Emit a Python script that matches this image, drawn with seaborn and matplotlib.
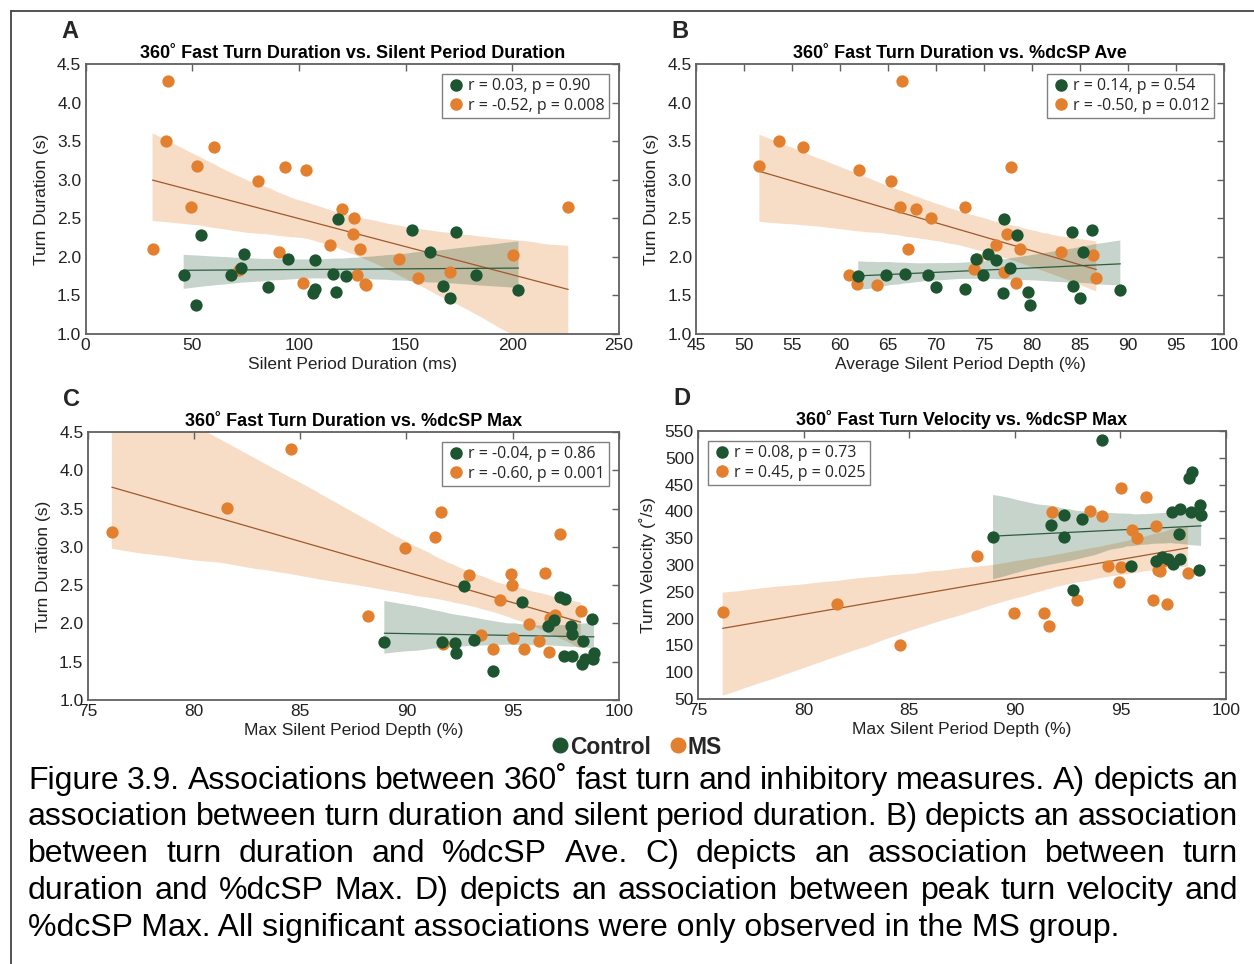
import matplotlib
matplotlib.use("Agg")
import matplotlib.pyplot as plt
from matplotlib.lines import Line2D
from matplotlib.collections import PolyCollection
import seaborn as sns

# ---------------- data ----------------
# Panel A: turn duration (s) vs silent period duration (ms)
a_ctrl_x = [46.0, 51.6, 54.0, 68.3, 73.0, 74.1, 85.6, 95.0, 107.4, 106.6, 107.4,
            116.0, 117.5, 118.4, 122.0, 153.1, 161.3, 167.3, 170.9, 173.5, 183.0, 202.9]
a_ctrl_y = [1.76, 1.38, 2.28, 1.76, 1.86, 2.04, 1.61, 1.97, 1.96, 1.53, 1.58,
            1.78, 1.54, 2.49, 1.75, 2.35, 2.06, 1.62, 1.47, 2.32, 1.77, 1.57]
a_ms_x = [38.5, 37.5, 60.0, 52.4, 31.4, 49.5, 72.0, 80.9, 90.9, 93.5, 103.4, 101.9,
          114.4, 120.2, 125.9, 125.2, 128.5, 127.3, 131.1, 131.5, 146.9, 155.8,
          170.9, 200.2, 226.2]
a_ms_y = [4.28, 3.50, 3.43, 3.18, 2.10, 2.64, 1.83, 2.98, 2.06, 3.16, 3.13, 1.66,
          2.15, 2.62, 2.50, 2.30, 2.10, 1.76, 1.65, 1.63, 1.97, 1.72, 1.81, 2.02, 2.65]

# Panel B: turn duration (s) vs average silent period depth (%)
b_ctrl_x = [61.9, 64.8, 66.8, 69.2, 70.0, 73.0, 74.2, 74.9, 75.4, 76.3, 77.0,
            77.1, 77.7, 78.4, 79.6, 79.8, 84.2, 84.3, 85.0, 85.3, 86.2, 89.2]
b_ctrl_y = [1.75, 1.76, 1.78, 1.76, 1.61, 1.58, 1.97, 1.77, 2.04, 1.96, 1.53,
            2.49, 1.86, 2.28, 1.54, 1.38, 2.32, 1.62, 1.47, 2.06, 2.35, 1.57]
b_ms_x = [51.6, 53.6, 56.1, 62.0, 65.3, 66.3, 67.9, 69.5, 73.0, 66.5, 67.1, 60.9,
          61.8, 63.9, 74.0, 74.3, 76.2, 77.1, 77.4, 77.8, 78.3, 78.8, 83.0, 86.4, 86.7]
b_ms_y = [3.18, 3.50, 3.43, 3.13, 2.98, 2.65, 2.62, 2.50, 2.64, 4.28, 2.10, 1.76,
          1.65, 1.63, 1.84, 1.97, 2.15, 1.81, 2.30, 3.16, 1.66, 2.10, 2.06, 2.02, 1.72]

# Panel C: turn duration (s) vs max silent period depth (%)
c_ctrl_x = [88.96, 92.71, 95.44, 97.22, 97.45, 96.66, 96.94, 97.76, 97.78, 98.73, 98.32,
            97.42, 97.81, 98.26, 98.40, 98.79, 98.82, 92.32, 92.27, 93.16, 94.07, 91.65]
c_ctrl_y = [1.76, 2.49, 2.28, 2.35, 2.32, 1.96, 2.04, 1.97, 1.86, 2.06, 1.77,
            1.57, 1.58, 1.47, 1.53, 1.54, 1.62, 1.61, 1.75, 1.78, 1.38, 1.76]
c_ms_x = [76.14, 81.54, 84.56, 88.21, 89.95, 91.33, 91.64, 91.72, 92.92, 93.52, 94.09,
          94.40, 94.92, 94.98, 95.00, 95.55, 95.78, 96.23, 96.54, 96.69, 96.75, 96.86,
          97.01, 97.22, 98.20]
c_ms_y = [3.19, 3.51, 4.28, 2.10, 2.99, 3.13, 3.45, 1.73, 2.63, 1.85, 1.66,
          2.31, 2.64, 2.50, 1.81, 1.66, 1.99, 1.77, 2.66, 1.63, 2.07, 2.05,
          2.11, 3.17, 2.16]

# Panel D: turn velocity (deg/s) vs max silent period depth (%)
d_ctrl_x = [94.15, 98.41, 98.27, 88.97, 91.71, 92.35, 92.32, 93.20, 92.74, 95.51, 96.67,
            96.97, 97.25, 97.50, 97.83, 97.46, 97.81, 98.34, 98.77, 98.82, 97.79, 98.74]
d_ctrl_y = [533, 473, 462, 353, 375, 394, 353, 385, 254, 299, 308,
            314, 311, 301, 312, 399, 404, 399, 412, 394, 358, 291]
d_ms_x = [76.17, 81.58, 84.58, 88.23, 89.98, 91.36, 91.64, 91.76, 92.94, 93.55, 94.11,
          94.41, 94.94, 95.01, 95.02, 95.57, 95.79, 96.22, 96.55, 96.70, 96.80, 96.88,
          97.03, 97.23, 98.19]
d_ms_y = [212, 228, 150, 316, 211, 211, 186, 398, 234, 401, 392,
          299, 268, 296, 444, 366, 350, 427, 234, 373, 291, 288,
          308, 227, 286]

panel_letters = ["A", "B", "C", "D"]
titles = ["360˚ Fast Turn Duration vs. Silent Period Duration",
          "360˚ Fast Turn Duration vs. %dcSP Ave",
          "360˚ Fast Turn Duration vs. %dcSP Max",
          "360˚ Fast Turn Velocity vs. %dcSP Max"]
xlabels = ["Silent Period Duration (ms)", "Average Silent Period Depth (%)",
           "Max Silent Period Depth (%)", "Max Silent Period Depth (%)"]
ylabels = ["Turn Duration (s)", "Turn Duration (s)", "Turn Duration (s)",
           "Turn Velocity (˚/s)"]
ctrl_stats = ["r = 0.03, p = 0.90", "r = 0.14, p = 0.54",
              "r = -0.04, p = 0.86", "r = 0.08, p = 0.73"]
ms_stats = ["r = -0.52, p = 0.008", "r = -0.50, p = 0.012",
            "r = -0.60, p = 0.001", "r = 0.45, p = 0.025"]
group_names = ["Control", "MS"]

caption_lines = [
    "Figure 3.9. Associations between 360˚ fast turn and inhibitory measures. A) depicts an",
    "association between turn duration and silent period duration. B) depicts an association",
    "between turn duration and %dcSP Ave. C) depicts an association between turn",
    "duration and %dcSP Max. D) depicts an association between peak turn velocity and",
    "%dcSP Max. All significant associations were only observed in the MS group.",
]

# ---------------- style ----------------
GREEN = "#1c5530"
ORANGE = "#e3802f"
GREEN_LINE = "#2f5c3e"
ORANGE_LINE = "#a0592c"
FRAME = "#606060"
TXT = "#222222"

sns.set_theme(style="white")
plt.rcParams["font.family"] = ["Liberation Sans", "DejaVu Sans"]
plt.rcParams["axes.edgecolor"] = FRAME
plt.rcParams["axes.linewidth"] = 1.3

W, H = 1254, 964
fig = plt.figure(figsize=(W / 100, H / 100), dpi=100)
fig.patch.set_facecolor("white")

def px_rect(x0, x1, y_top, y_bot):
    return [x0 / W, 1 - y_bot / H, (x1 - x0) / W, (y_bot - y_top) / H]

rects = [px_rect(85.5, 619, 64, 334), px_rect(696, 1224, 64, 334),
         px_rect(87.6, 619, 432, 700), px_rect(698, 1226, 431, 699)]

panels = [
    (a_ctrl_x, a_ctrl_y, a_ms_x, a_ms_y, (0, 250), [0, 50, 100, 150, 200, 250], (1.0, 4.5), [1.0, 1.5, 2.0, 2.5, 3.0, 3.5, 4.0, 4.5]),
    (b_ctrl_x, b_ctrl_y, b_ms_x, b_ms_y, (45, 100), list(range(45, 101, 5)), (1.0, 4.5), [1.0, 1.5, 2.0, 2.5, 3.0, 3.5, 4.0, 4.5]),
    (c_ctrl_x, c_ctrl_y, c_ms_x, c_ms_y, (75, 100), list(range(75, 101, 5)), (1.0, 4.5), [1.0, 1.5, 2.0, 2.5, 3.0, 3.5, 4.0, 4.5]),
    (d_ctrl_x, d_ctrl_y, d_ms_x, d_ms_y, (75, 100), list(range(75, 101, 5)), (50, 550), list(range(50, 551, 50))),
]


def add_group(ax, x, y, color, line_color, band_alpha, z, seed):
    n_before = len(ax.collections)
    sns.regplot(x=x, y=y, ax=ax, color=color, ci=95, n_boot=1000, seed=seed,
                scatter_kws=dict(s=78, alpha=1, linewidths=0, zorder=z),
                line_kws=dict(color=line_color, lw=0.9, zorder=2))
    for coll in ax.collections[n_before:]:
        if isinstance(coll, PolyCollection):
            coll.set_facecolor(color)
            coll.set_alpha(band_alpha)
            coll.set_edgecolor("none")
            coll.set_zorder(0.5)


for i, (rect, pdata) in enumerate(zip(rects, panels)):
    cx, cy, mx, my, xlim, xticks, ylim, yticks = pdata
    ax = fig.add_axes(rect)
    add_group(ax, mx, my, ORANGE, ORANGE_LINE, 0.27, 3.0, 11 + i)
    add_group(ax, cx, cy, GREEN, GREEN_LINE, 0.25, 3.1, 23 + i)

    ax.set_xlim(*xlim)
    ax.set_ylim(*ylim)
    ax.set_xticks(xticks)
    ax.set_yticks(yticks)
    if ylim[1] < 10:
        ax.set_yticklabels([f"{v:.1f}" for v in yticks])
    ax.tick_params(direction="in", length=5, width=1.0, color=FRAME,
                   top=True, right=True, labelsize=12.5, labelcolor=TXT, pad=3)
    for s in ax.spines.values():
        s.set_visible(True)
        s.set_color(FRAME)
    ax.set_xlabel(xlabels[i], fontsize=12.5, color=TXT, labelpad=3)
    ax.set_ylabel(ylabels[i], fontsize=12.5, color=TXT, labelpad=6)
    ax.set_title(titles[i], fontsize=13, fontweight="bold", color="black", pad=4)
    ax.text(-0.03, 1.12, panel_letters[i], transform=ax.transAxes,
            fontsize=17, fontweight="bold", ha="center", va="center")

    handles = [Line2D([], [], ls="none", marker="o", ms=8, color=GREEN),
               Line2D([], [], ls="none", marker="o", ms=8, color=ORANGE)]
    leg = ax.legend(handles, [ctrl_stats[i], ms_stats[i]],
                    loc="upper left" if i == 3 else "upper right",
                    prop=dict(family=["Open Sans", "DejaVu Sans"], size=11.5),
                    frameon=True, fancybox=False, framealpha=1, edgecolor="#808080",
                    handletextpad=0.15, handlelength=1.2, borderpad=0.3,
                    labelspacing=0.2, borderaxespad=0.6)
    leg.get_frame().set_linewidth(1.0)

# shared group legend
fig_handles = [Line2D([], [], ls="none", marker="o", ms=10.5, color=GREEN),
               Line2D([], [], ls="none", marker="o", ms=10.5, color=ORANGE)]
fig.legend(fig_handles, group_names, loc="center", bbox_to_anchor=(636 / W, 1 - 747 / H),
           ncol=2, frameon=False, prop=dict(weight="bold", size=16.5),
           handletextpad=0.0, columnspacing=0.7, handlelength=0.9)

# caption, justified between the margins except for the last line
renderer = fig.canvas.get_renderer()
cap_left, cap_right = 28, 1238
cap_rows = [781, 817, 854, 891, 928]
cap_size = 23
for k, (line, yrow) in enumerate(zip(caption_lines, cap_rows)):
    yf = 1 - yrow / H
    if k == len(caption_lines) - 1:
        fig.text(cap_left / W, yf, line, fontsize=cap_size, color="black",
                 ha="left", va="center")
        continue
    words = line.split(" ")
    texts = [fig.text(0, yf, w, fontsize=cap_size, color="black",
                      ha="left", va="center") for w in words]
    widths = [t.get_window_extent(renderer).width for t in texts]
    gap = (cap_right - cap_left - sum(widths)) / (len(words) - 1)
    xpos = cap_left
    for t, wd in zip(texts, widths):
        t.set_x(xpos / W)
        xpos += wd + gap

# outer frame lines
fig.add_artist(Line2D([11 / W, 1.0], [1 - 11 / H, 1 - 11 / H], color="#444444", lw=1.3))
fig.add_artist(Line2D([11 / W, 11 / W], [0.0, 1 - 11 / H], color="#444444", lw=1.3))

fig.savefig("out.png", dpi=100, facecolor="white")
